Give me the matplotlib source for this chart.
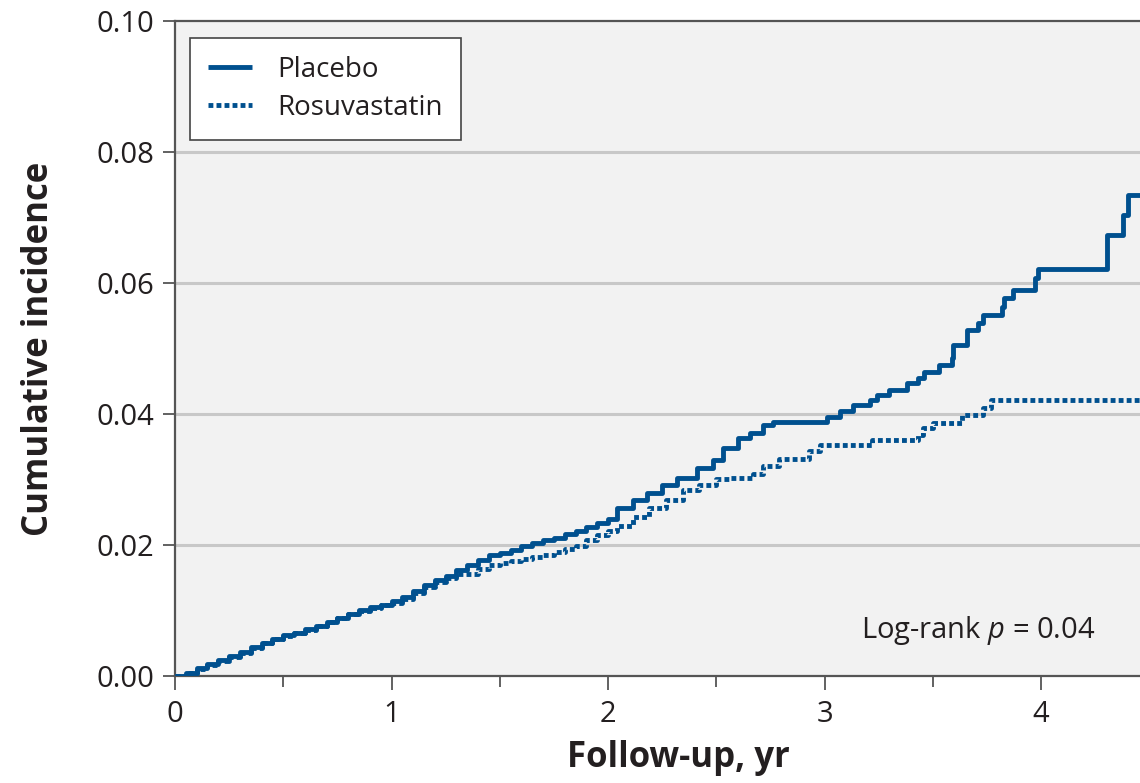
import matplotlib
matplotlib.use('Agg')
import matplotlib.pyplot as plt
from matplotlib.ticker import MultipleLocator

plt.rcParams['font.family'] = ['Open Sans', 'DejaVu Sans']
plt.rcParams['mathtext.fontset'] = 'custom'
plt.rcParams['mathtext.rm'] = 'Open Sans'
plt.rcParams['mathtext.it'] = 'Open Sans:italic'

# Kaplan-Meier style cumulative incidence (years, incidence)
placeboT = [0.00, 0.05, 0.10, 0.15, 0.20, 0.25, 0.30, 0.35, 0.40, 0.45,
            0.50, 0.55, 0.60, 0.65, 0.70, 0.75, 0.80, 0.85, 0.90, 0.95,
            1.00, 1.05, 1.10, 1.15, 1.20, 1.25, 1.30, 1.35, 1.40, 1.45,
            1.50, 1.55, 1.60, 1.65, 1.70, 1.75, 1.80, 1.85, 1.90, 1.95,
            2.00, 2.04, 2.115, 2.18, 2.25, 2.32, 2.41, 2.485, 2.53, 2.60,
            2.655, 2.715, 2.76, 3.01, 3.07, 3.13, 3.21, 3.24, 3.30, 3.38,
            3.43, 3.46, 3.53, 3.59, 3.595, 3.66, 3.71, 3.73, 3.82, 3.83,
            3.87, 3.97, 3.985, 4.305, 4.38, 4.40, 4.46]
placeboY = [0.0000, 0.0004, 0.0012, 0.0018, 0.0024, 0.0030, 0.0036, 0.0044, 0.0051, 0.0057,
            0.0062, 0.0066, 0.0071, 0.0077, 0.0083, 0.0089, 0.0095, 0.0100, 0.0105, 0.0109,
            0.0114, 0.0120, 0.0130, 0.0139, 0.0146, 0.0153, 0.0162, 0.0170, 0.0177, 0.0184,
            0.0188, 0.0193, 0.0198, 0.0203, 0.0207, 0.0211, 0.0217, 0.0222, 0.0228, 0.0234,
            0.0240, 0.0256, 0.0269, 0.0279, 0.0292, 0.0302, 0.0318, 0.0330, 0.0348, 0.0363,
            0.0371, 0.0383, 0.0388, 0.0395, 0.0405, 0.0414, 0.0421, 0.0429, 0.0437, 0.0447,
            0.0455, 0.0464, 0.0475, 0.0486, 0.0505, 0.0528, 0.0539, 0.0551, 0.0563, 0.0577,
            0.0589, 0.0608, 0.0622, 0.0673, 0.0704, 0.0735, 0.0735]

rosuvaT = [0.00, 0.05, 0.10, 0.15, 0.20, 0.25, 0.30, 0.35, 0.40, 0.45,
           0.50, 0.55, 0.60, 0.65, 0.70, 0.75, 0.80, 0.85, 0.90, 0.95,
           1.00, 1.05, 1.10, 1.15, 1.20, 1.25, 1.30, 1.35, 1.40, 1.45,
           1.50, 1.55, 1.60, 1.65, 1.70, 1.75, 1.80, 1.85, 1.90, 1.95,
           2.00, 2.04, 2.115, 2.19, 2.27, 2.345, 2.42, 2.50, 2.56, 2.67,
           2.715, 2.79, 2.93, 2.98, 3.22, 3.43, 3.455, 3.50, 3.635, 3.73,
           3.77, 4.46]
rosuvaY = [0.0000, 0.0004, 0.0011, 0.0017, 0.0023, 0.0029, 0.0035, 0.0043, 0.0050, 0.0056,
           0.0061, 0.0065, 0.0070, 0.0076, 0.0082, 0.0088, 0.0094, 0.0099, 0.0104, 0.0108,
           0.0112, 0.0118, 0.0127, 0.0136, 0.0143, 0.0149, 0.0155, 0.0156, 0.0164, 0.0170,
           0.0173, 0.0175, 0.0178, 0.0181, 0.0185, 0.0189, 0.0194, 0.0199, 0.0207, 0.0215,
           0.0221, 0.0229, 0.0243, 0.0256, 0.0268, 0.0284, 0.0292, 0.0300, 0.0303, 0.0308,
           0.0320, 0.0332, 0.0343, 0.0353, 0.0360, 0.0368, 0.0379, 0.0386, 0.0398, 0.0409,
           0.0421, 0.0421]

yTicks = [0.00, 0.02, 0.04, 0.06, 0.08, 0.10]
xTicks = [0, 1, 2, 3, 4]

lineColor = '#00508f'
axisColor = '#555555'
textColor = '#231f20'

fig = plt.figure(figsize=(11.4, 7.83), dpi=100)
ax = fig.add_axes([0.1535, 0.1367, 0.8465, 0.8365])
ax.set_facecolor('#f2f2f2')

# light horizontal gridlines
for yv in yTicks[1:-1]:
    ax.axhline(yv, color='#c8c8c8', lw=2.2, zorder=1)

ax.plot(placeboT, placeboY, drawstyle='steps-post', color=lineColor, lw=3.5,
        label='Placebo', zorder=3, solid_capstyle='butt')
ax.plot(rosuvaT, rosuvaY, drawstyle='steps-post', color=lineColor, lw=3.5,
        linestyle=(0, (1.0, 0.65)), label='Rosuvastatin', zorder=3)

ax.set_xlim(0, 4.457)
ax.set_ylim(0, 0.10)
ax.set_xticks(xTicks)
ax.xaxis.set_minor_locator(MultipleLocator(0.5))
ax.set_yticks(yTicks)
ax.set_yticklabels(['%.2f' % v for v in yTicks])

ax.tick_params(axis='both', which='major', direction='out', color=axisColor,
               width=1.3, labelsize=21, labelcolor=textColor)
ax.tick_params(axis='x', which='major', length=10, pad=7)
ax.tick_params(axis='x', which='minor', length=8, width=1.3, color=axisColor)
ax.tick_params(axis='y', which='major', length=9, pad=6)

for side in ['left', 'bottom', 'top']:
    ax.spines[side].set_color(axisColor)
    ax.spines[side].set_linewidth(1.6)
ax.spines['right'].set_visible(False)

ax.set_xlabel('Follow-up, yr', fontsize=25, fontweight='bold', color=textColor, labelpad=8)
ax.xaxis.label.set_x(0.522)
ax.set_ylabel('Cumulative incidence', fontsize=25, fontweight='bold', color=textColor, labelpad=28)

leg = ax.legend(loc='upper left', bbox_to_anchor=(0.0155, 0.974), borderaxespad=0,
                fontsize=20, frameon=True, fancybox=False, framealpha=1,
                edgecolor='#444444', handlelength=1.6, handletextpad=0.9,
                borderpad=0.65, labelspacing=0.35)
leg.get_frame().set_linewidth(1.2)
for t in leg.get_texts():
    t.set_color(textColor)

ax.text(0.832, 0.07, 'Log-rank $p$ = 0.04', transform=ax.transAxes, fontsize=21,
        color=textColor, ha='center', va='center')

fig.savefig('out.png', dpi=100)
